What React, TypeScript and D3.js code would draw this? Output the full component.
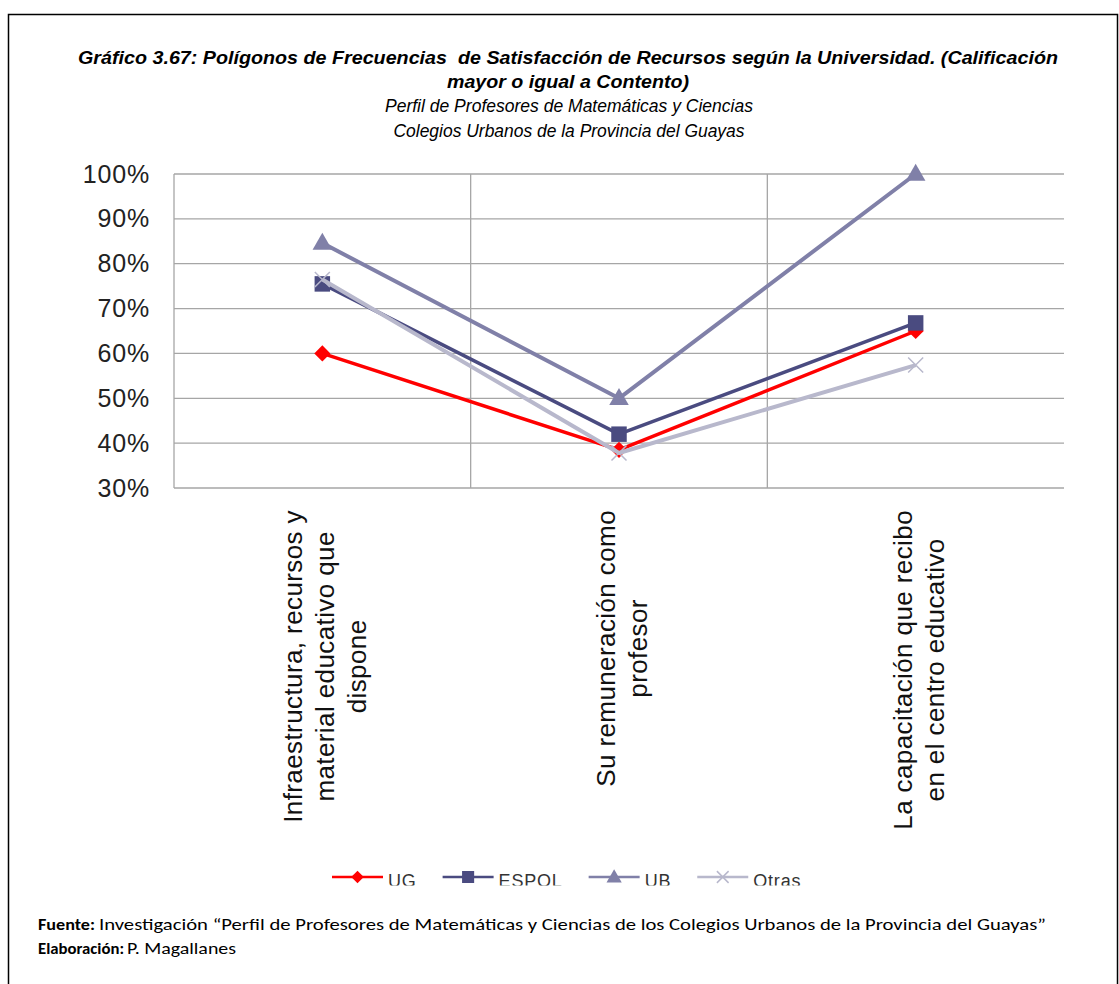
import React, { useEffect, useRef } from "react";
import * as d3 from "d3";

const W = 1119;
const H = 984;

const titleLines = [
  "Gráfico 3.67: Polígonos de Frecuencias  de Satisfacción de Recursos según la Universidad. (Calificación",
  "mayor o igual a Contento)",
];
const subtitleLines = [
  "Perfil de Profesores de Matemáticas y Ciencias",
  "Colegios Urbanos de la Provincia del Guayas",
];
const categoryLines: string[][] = [
  ["Infraestructura, recursos y", "material educativo que", "dispone"],
  ["Su remuneración como", "profesor"],
  ["La capacitación que recibo", "en el centro educativo"],
];
const seriesNames = ["UG", "ESPOL", "UB", "Otras"];
const ugValues = [0.6, 0.385, 0.65];
const espolValues = [0.755, 0.42, 0.668];
const ubValues = [0.846, 0.5, 1.0];
const otrasValues = [0.765, 0.378, 0.574];
const yTickValues = [0.3, 0.4, 0.5, 0.6, 0.7, 0.8, 0.9, 1.0];

const seriesStyles = [
  { color: "#FF0000", marker: "diamond", width: 3.5 },
  { color: "#4A4B80", marker: "square", width: 3.5 },
  { color: "#8080A8", marker: "triangle", width: 4 },
  { color: "#B8B8CC", marker: "x", width: 4 },
];

const AXIS_FONT = "'Liberation Sans', Arial, sans-serif";
const NARROW_FONT = "'Liberation Sans Narrow', 'Arial Narrow', 'Liberation Sans', Arial, sans-serif";

function drawMarker(g: any, kind: string, x: number, y: number, color: string, scale = 1) {
  if (kind === "diamond") {
    g.append("path")
      .attr("d", d3.symbol().type(d3.symbolSquare).size(130 * scale * scale)())
      .attr("transform", `translate(${x},${y}) rotate(45)`)
      .attr("fill", color);
  } else if (kind === "square") {
    g.append("path")
      .attr("d", d3.symbol().type(d3.symbolSquare).size(240 * scale * scale)())
      .attr("transform", `translate(${x},${y})`)
      .attr("fill", color);
  } else if (kind === "triangle") {
    g.append("path")
      .attr("d", d3.symbol().type(d3.symbolTriangle).size(165 * scale * scale)())
      .attr("transform", `translate(${x},${y + 1})`)
      .attr("fill", color);
  } else {
    const r = 7.5 * scale;
    g.append("path")
      .attr("d", `M${x - r},${y - r}L${x + r},${y + r}M${x - r},${y + r}L${x + r},${y - r}`)
      .attr("stroke", color)
      .attr("stroke-width", 1.5)
      .attr("fill", "none");
  }
}

export default function App() {
  const ref = useRef<SVGSVGElement | null>(null);

  useEffect(() => {
    document.body.style.margin = "0";
    const svg = d3.select(ref.current);
    svg.selectAll("*").remove();

    // outer frame
    svg.append("rect")
      .attr("x", 8.5).attr("y", 14.5)
      .attr("width", 1109).attr("height", 985)
      .attr("fill", "none").attr("stroke", "#000").attr("stroke-width", 1.5);

    // titles
    const titleLens = [980, 242];
    const titleBase = [64, 88];
    titleLines.forEach((t, i) => {
      svg.append("text")
        .attr("x", 568).attr("y", titleBase[i])
        .attr("text-anchor", "middle")
        .attr("font-family", NARROW_FONT)
        .attr("font-size", 19).attr("font-weight", "bold").attr("font-style", "italic")
        .attr("textLength", titleLens[i]).attr("lengthAdjust", "spacingAndGlyphs")
        .style("white-space", "pre")
        .attr("fill", "#000")
        .text(t);
    });
    const subLens = [368, 351];
    const subBase = [112, 137];
    subtitleLines.forEach((t, i) => {
      svg.append("text")
        .attr("x", 569).attr("y", subBase[i])
        .attr("text-anchor", "middle")
        .attr("font-family", NARROW_FONT)
        .attr("font-size", 17.5).attr("font-style", "italic")
        .attr("textLength", subLens[i]).attr("lengthAdjust", "spacingAndGlyphs")
        .attr("fill", "#000")
        .text(t);
    });

    // scales
    const x = d3.scaleBand<number>().domain([0, 1, 2]).range([174, 1064]);
    const y = d3.scaleLinear().domain([0.3, 1.0]).range([488, 174]);
    const cx = (i: number) => (x(i) as number) + x.bandwidth() / 2;

    const grid = svg.append("g");
    yTickValues.forEach((v) => {
      grid.append("line")
        .attr("x1", 174).attr("x2", 1064)
        .attr("y1", y(v)).attr("y2", y(v))
        .attr("stroke", "#A6A6A6").attr("stroke-width", 1.3);
    });
    [0, 1, 2].forEach((i) => {
      const xx = x(i) as number;
      grid.append("line")
        .attr("x1", xx).attr("x2", xx)
        .attr("y1", y(1.0)).attr("y2", y(0.3))
        .attr("stroke", "#A6A6A6").attr("stroke-width", 1.3);
    });

    // y labels
    yTickValues.forEach((v) => {
      svg.append("text")
        .attr("x", 150).attr("y", y(v) + 8.5)
        .attr("text-anchor", "end")
        .attr("font-family", AXIS_FONT)
        .attr("font-size", 25)
        .attr("letter-spacing", 0.8)
        .attr("fill", "#222")
        .text(d3.format(".0%")(v));
    });

    // category labels (rotated)
    const lh = 32;
    categoryLines.forEach((lines, i) => {
      const g = svg.append("g").attr("transform", `translate(${cx(i)},510) rotate(-90)`);
      const texts = lines.map((t) =>
        g.append("text")
          .attr("font-family", AXIS_FONT)
          .attr("font-size", 26)
          .attr("letter-spacing", 0.4)
          .attr("text-anchor", "middle")
          .attr("fill", "#111")
          .text(t)
      );
      const maxLen = d3.max(texts, (t: any) => (t.node() as SVGTextElement).getComputedTextLength()) || 0;
      const n = lines.length;
      texts.forEach((t: any, k: number) => {
        t.attr("x", -maxLen / 2).attr("y", (k - (n - 1) / 2) * lh + 12);
      });
    });

    // series
    const allValues = [ugValues, espolValues, ubValues, otrasValues];
    const line = d3.line<number>().x((_, i) => cx(i)).y((d) => y(d));
    allValues.forEach((vals, s) => {
      const st = seriesStyles[s];
      const g = svg.append("g");
      g.append("path")
        .attr("d", line(vals))
        .attr("fill", "none")
        .attr("stroke", st.color)
        .attr("stroke-width", st.width)
        .attr("stroke-linejoin", "round");
      vals.forEach((v, i) => drawMarker(g, st.marker, cx(i), y(v), st.color));
    });

    // legend
    svg.append("clipPath").attr("id", "legclip")
      .append("rect").attr("x", 0).attr("y", 850).attr("width", W).attr("height", 35.5);
    const leg = svg.append("g").attr("clip-path", "url(#legclip)");
    let lx = 332;
    const ly = 877;
    seriesNames.forEach((name, s) => {
      const st = seriesStyles[s];
      leg.append("line")
        .attr("x1", lx).attr("x2", lx + 51)
        .attr("y1", ly).attr("y2", ly)
        .attr("stroke", st.color).attr("stroke-width", 2.5);
      drawMarker(leg, st.marker, lx + 25.5, ly, st.color, 0.78);
      const t = leg.append("text")
        .attr("x", lx + 56).attr("y", ly + 10)
        .attr("font-family", AXIS_FONT)
        .attr("font-size", 18)
        .attr("letter-spacing", 0.8)
        .attr("fill", "#333")
        .text(name);
      const tw = (t.node() as SVGTextElement).getComputedTextLength();
      lx = lx + 56 + tw + 26;
    });

    // footer
    const foot = svg.append("g").attr("font-family", "Carlito, Calibri, Lato, 'Open Sans', sans-serif").attr("font-size", 16).attr("fill", "#000");
    const f1 = foot.append("text").attr("x", 38).attr("y", 930);
    f1.append("tspan").attr("font-weight", "bold").text("Fuente:").attr("textLength", 57).attr("lengthAdjust", "spacingAndGlyphs");
    f1.append("tspan").attr("x", 99)
      .attr("textLength", 947).attr("lengthAdjust", "spacingAndGlyphs")
      .text("Investigación “Perfil de Profesores de Matemáticas y Ciencias de los Colegios Urbanos de la Provincia del Guayas”");
    const f2 = foot.append("text").attr("x", 38).attr("y", 954);
    f2.append("tspan").attr("font-weight", "bold").text("Elaboración:").attr("textLength", 86).attr("lengthAdjust", "spacingAndGlyphs");
    f2.append("tspan").attr("x", 127)
      .attr("textLength", 109).attr("lengthAdjust", "spacingAndGlyphs")
      .text("P. Magallanes");
  }, []);

  return (
    <svg
      ref={ref}
      width={W}
      height={H}
      style={{ display: "block", background: "#fff" }}
      xmlns="http://www.w3.org/2000/svg"
    />
  );
}
